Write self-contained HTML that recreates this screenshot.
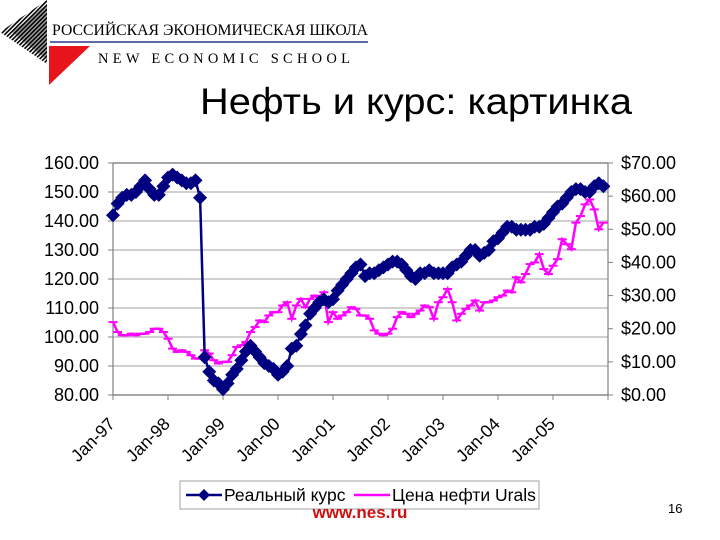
<!DOCTYPE html>
<html><head><meta charset="utf-8">
<style>
body{margin:0;background:#fff;}
#wrap{position:relative;width:720px;height:540px;overflow:hidden;background:#fff;font-family:"Liberation Sans",Arial,sans-serif;}
</style></head>
<body>
<div id="wrap">
<svg id="logo" width="720" height="540" style="position:absolute;left:0;top:0" xmlns="http://www.w3.org/2000/svg">
  <defs>
    <pattern id="hatch" width="3" height="3" patternUnits="userSpaceOnUse" patternTransform="rotate(45)">
      <rect width="1.6" height="3" fill="#000"/>
    </pattern>
  </defs>
  <polygon points="47,0 47,64 0,32" fill="url(#hatch)"/>
  <polygon points="47,4 47,60 12,32" fill="#000" opacity="0.35"/>
  <polygon points="49,46 90,46 49,85" fill="#e8141c"/>
  <text x="52" y="35" font-family="Liberation Serif,serif" font-size="16" textLength="316" lengthAdjust="spacingAndGlyphs" fill="#000">РОССИЙСКАЯ ЭКОНОМИЧЕСКАЯ ШКОЛА</text>
  <line x1="50" y1="42" x2="368" y2="42" stroke="#2a3a8a" stroke-width="1.5"/>
  <text x="98" y="63" font-family="Liberation Serif,serif" font-size="14.5" textLength="252" lengthAdjust="spacing" fill="#000">NEW ECONOMIC SCHOOL</text>
  <text x="200" y="114" font-size="37" textLength="432" lengthAdjust="spacingAndGlyphs" fill="#000">Нефть и курс: картинка</text>
  <text x="360" y="518" font-size="17" font-weight="bold" fill="#d01010" text-anchor="middle">www.nes.ru</text>
  <text x="668" y="513" font-size="13" fill="#000">16</text>
</svg>
<svg id="chart" width="720" height="540" style="position:absolute;left:0;top:0" xmlns="http://www.w3.org/2000/svg"></svg>
</div>
<script>
const years = ["Jan-97","Jan-98","Jan-99","Jan-00","Jan-01","Jan-02","Jan-03","Jan-04","Jan-05"];
const leftTicks = [80,90,100,110,120,130,140,150,160];
const rightTicks = [0,10,20,30,40,50,60,70];
const realRate = [
142,146,148,149,149,150,152,154,151,149,149,152,
155,156,155,154,153,153,154,148,93,88,85,84,
82,84,87,89,92,95,97,95,93,91,90,89,
87,88,90,96,97,101,104,108,110,112,113,112,
113,116,118,120,122,124,125,121,122,122,123,124,
125,126,126,125,123,121,120,122,122,123,122,122,
122,122,124,125,126,128,130,130,128,129,130,133,
134,136,138,138,137,137,137,137,138,138,139,141,
143,145,146,148,150,151,151,150,150,152,153,152];
const oilPrice = [
22,19,18,18,18.5,18,18.5,18.5,19,20,20,19,
17,14,13,13.5,13,12,11,11,13.5,12.5,10.5,9.5,
10,10,12,14.5,15,16,19,20.5,22.5,22,24,25,
25,27,28,23,27,29,26.5,29,30,29.5,31,22,
25,23,24,25,26.5,26,24,24,23,19.5,18.5,18,
18.5,20,23.5,25,24.5,23.5,24.5,25.5,27,26.5,23,28,
29.5,32,28,22.5,24.5,26,27,28.5,25.5,28,28,28.5,
29.5,30,31.5,31,35.5,34,36.5,39.5,40,42.5,38,36.5,
39,41,47,45.5,44,52,54,57.5,59,56,50,52];

const svg = document.getElementById('chart');
const NS = 'http://www.w3.org/2000/svg';
const X0=113, X1=608, Y0=395, Y1=163;
const nMonths = 108;
function xS(i){return X0 + i*(X1-X0)/nMonths;}
function yL(v){return Y0 - (v-80)*(Y0-Y1)/80;}
function yR(v){return Y0 - v*(Y0-Y1)/70;}
function mk(tag, attrs, parent){const e=document.createElementNS(NS,tag);for(const k in attrs)e.setAttribute(k,attrs[k]);(parent||svg).appendChild(e);return e;}

leftTicks.forEach(v=>{
  const g=mk('line',{x1:X0,x2:X1,y1:yL(v),y2:yL(v),stroke:'#c0c0c0','stroke-width':1.5});
  
  
  mk('line',{x1:X0-5,x2:X0,y1:yL(v),y2:yL(v),stroke:'#808080'});
  const lb=mk('text',{x:99,y:yL(v)+6,'font-size':18,'text-anchor':'end',fill:'#000'});
  lb.textContent=v.toFixed(2);
  
  
});
rightTicks.forEach(v=>{
  mk('line',{x1:X1,x2:X1+5,y1:yR(v),y2:yR(v),stroke:'#808080'});
  const lb=mk('text',{x:621,y:yR(v)+6,'font-size':18,fill:'#000'});
  lb.textContent='$'+v.toFixed(2);
  
  
});
const ax=mk('rect',{x:X0,y:Y1,width:X1-X0,height:Y0-Y1,fill:'none',stroke:'#808080','stroke-width':1.2});


for(let k=0;k<=9;k++){mk('line',{x1:xS(k*12),x2:xS(k*12),y1:Y0,y2:Y0+5,stroke:'#808080'});}
years.forEach((y,k)=>{
  const x=xS(k*12)+3, yy=Y0+30;
  const t=mk('text',{x:x,y:yy,'font-size':17.5,'text-anchor':'end',transform:`rotate(-45 ${x} ${yy})`,fill:'#000'});
  t.textContent=y;
  
  
});

let d='';
oilPrice.forEach((v,i)=>{d+=(i?'L':'M')+xS(i).toFixed(1)+','+yR(v).toFixed(1);});
const oil=mk('path',{d:d,fill:'none',stroke:'#ff00ff','stroke-width':2.5});


oilPrice.forEach((v,i)=>{
  const m=mk('line',{x1:xS(i)-4.5,x2:xS(i)+4.5,y1:yR(v),y2:yR(v),stroke:'#ff00ff','stroke-width':2});
  
  
});
d='';
realRate.forEach((v,i)=>{d+=(i?'L':'M')+xS(i).toFixed(1)+','+yL(v).toFixed(1);});
const rr=mk('path',{d:d,fill:'none',stroke:'#000080','stroke-width':2.5});


realRate.forEach((v,i)=>{
  const x=xS(i), y=yL(v);
  const m=mk('polygon',{points:`${x},${y-7} ${x+7},${y} ${x},${y+7} ${x-7},${y}`,fill:'#000080'});
  
  
});

const lg=mk('g',{});


mk('rect',{x:180,y:481,width:359,height:28,fill:'#fff',stroke:'#a0a0a0'},lg);
mk('line',{x1:186,x2:222,y1:495,y2:495,stroke:'#000080','stroke-width':2.5},lg);
mk('polygon',{points:'204,489 210,495 204,501 198,495',fill:'#000080'},lg);
const l1=mk('text',{x:224,y:501,'font-size':17.5,fill:'#000'},lg);
l1.textContent='Реальный курс';


mk('line',{x1:354,x2:390,y1:495,y2:495,stroke:'#ff00ff','stroke-width':2.5},lg);
const l2=mk('text',{x:392,y:501,'font-size':17.5,fill:'#000'},lg);
l2.textContent='Цена нефти Urals';


svg.parentNode.appendChild(document.getElementById('logo'));
document.getElementById('logo').style.pointerEvents='none';
</script>
</body></html>
